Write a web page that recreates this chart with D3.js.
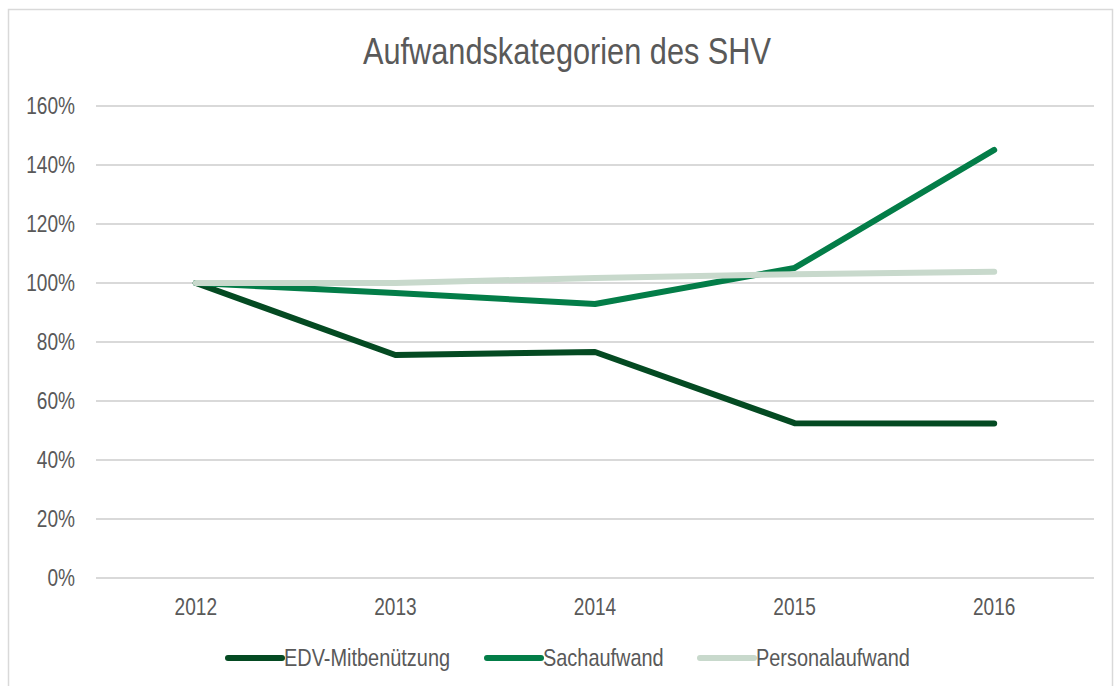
<!DOCTYPE html>
<html lang="de">
<meta charset="utf-8">
<style>
  body { margin: 0; background: #fff; }
  text { font-family: 'Liberation Sans', Arial, sans-serif; fill: #595959; }
  .grid line { stroke: #d9d9d9; stroke-width: 2; }
  .line { fill: none; stroke-width: 6; stroke-linecap: round; stroke-linejoin: round; }
</style>
<body>
<div id="chart"></div>
<script src="https://d3js.org/d3.v7.min.js"></script>
<script>

// chart data
var years = ["2012", "2013", "2014", "2015", "2016"];
var edv = [100, 75.6, 76.6, 52.5, 52.4];
var sach = [100, 96.6, 92.9, 105.1, 145.1];
var personal = [100, 100, 101.7, 103, 103.8];
var yTicks = [0, 20, 40, 60, 80, 100, 120, 140, 160];

var seriesNames = ["EDV-Mitbenützung", "Sachaufwand", "Personalaufwand"];
var seriesColors = ["#044a22", "#037d48", "#c8d9cc"];

var width = 1117,
    height = 686;

// the original uses a narrow font, so squeeze text horizontally
var squeeze = 0.83;
function at(px, py) { return "translate(" + px + "," + py + ") scale(" + squeeze + ",1)"; }

var svg = d3.select("#chart").append("svg")
    .attr("width", width)
    .attr("height", height);

// outer frame
svg.append("rect")
    .attr("x", 8.5).attr("y", 9.5)
    .attr("width", 1104).attr("height", 700)
    .attr("fill", "none")
    .attr("stroke", "#d9d9d9")
    .attr("stroke-width", 1.5);

var x = d3.scaleBand()
    .domain(years)
    .range([96, 1094]);

var y = d3.scaleLinear()
    .domain([0, 160])
    .range([578, 106]);

// gridlines
svg.append("g")
    .attr("class", "grid")
  .selectAll("line")
    .data(yTicks)
  .enter().append("line")
    .attr("x1", 96).attr("x2", 1094)
    .attr("y1", function(d) { return y(d); })
    .attr("y2", function(d) { return y(d); });

// y labels
svg.append("g")
  .selectAll("text")
    .data(yTicks)
  .enter().append("text")
    .attr("transform", function(d) { return at(75, y(d)); })
    .attr("dy", "0.35em")
    .attr("text-anchor", "end")
    .style("font-size", "23px")
    .text(function(d) { return d + "%"; });

// x labels
svg.append("g")
  .selectAll("text")
    .data(years)
  .enter().append("text")
    .attr("transform", function(d) { return at(x(d) + x.bandwidth() / 2, 615); })
    .attr("text-anchor", "middle")
    .style("font-size", "23px")
    .text(function(d) { return d; });

// title
svg.append("text")
    .attr("transform", at(567, 64))
    .attr("text-anchor", "middle")
    .style("font-size", "37px")
    .text("Aufwandskategorien des SHV");

var line = d3.line()
    .x(function(d, i) { return x(years[i]) + x.bandwidth() / 2; })
    .y(function(d) { return y(d); });

var allSeries = [edv, sach, personal];

svg.append("g")
  .selectAll("path")
    .data(allSeries)
  .enter().append("path")
    .attr("class", "line")
    .attr("stroke", function(d, i) { return seriesColors[i]; })
    .attr("d", line);

// legend
var legendX = [228, 487, 700];
var legend = svg.append("g")
  .selectAll("g")
    .data(seriesNames)
  .enter().append("g")
    .attr("transform", function(d, i) { return "translate(" + legendX[i] + ",658)"; });

legend.append("line")
    .attr("x1", 0).attr("x2", 54)
    .attr("stroke", function(d, i) { return seriesColors[i]; })
    .attr("stroke-width", 6)
    .attr("stroke-linecap", "round");

legend.append("text")
    .attr("transform", at(56, 0))
    .attr("dy", "0.35em")
    .style("font-size", "24px")
    .text(function(d) { return d; });

</script>
</body>
</html>
